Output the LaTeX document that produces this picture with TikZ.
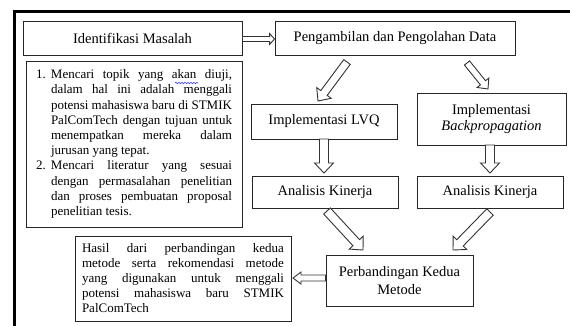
\documentclass[tikz,border=0pt]{standalone}
\usepackage{fontspec}
\setmainfont{Liberation Serif}
\usetikzlibrary{calc,decorations.pathmorphing}
\newcommand\jl[2]{\hbox to #1{\spaceskip=.25em plus 1fil minus .05em\relax #2}}
\newcommand\tfont{\rmfamily\fontsize{14.5}{16}\selectfont}
\newcommand\lfont{\rmfamily\fontsize{13}{15.2}\selectfont}
\newcommand\hfont{\rmfamily\fontsize{13}{15}\selectfont}
\newcommand\hollowarrow[5]{%
  \draw[arrowline] ($(#1)!#3!90:(#2)$) -- ($(#2)!#5!(#1)!#3!-90:(#1)$)
    -- ($(#2)!#5!(#1)!#4!-90:(#1)$) -- (#2)
    -- ($(#2)!#5!(#1)!#4!90:(#1)$) -- ($(#2)!#5!(#1)!#3!90:(#1)$)
    -- ($(#1)!#3!-90:(#2)$) -- cycle;}
\tikzset{
  box/.style={draw=black!85, line width=0.9pt, inner sep=0pt, font=\tfont, align=center},
  arrowline/.style={draw=black!80, line width=0.9pt, fill=white, line join=miter},
  spellwave/.style={draw=blue!75!white, line width=0.6pt, decorate, decoration={snake, amplitude=0.8pt, segment length=3pt}}
}
\begin{document}
\begin{tikzpicture}[x=1pt,y=-1pt]
\useasboundingbox (0,0) rectangle (570,325);
\begin{scope}
  \clip (0,0) rectangle (570,325);
  \draw[line width=3.5pt] (14.5,11.5) rectangle (620,360);
\end{scope}

\node[box, minimum width=219pt, minimum height=34pt] (ident) at (132.5,38) {Identifikasi Masalah};
\node[box, minimum width=240pt, minimum height=34pt] (peng) at (395,38) {Pengambilan dan Pengolahan Data};
\node[box, minimum width=216pt, minimum height=166pt, font=\lfont, align=left] (list) at (134,144) {%
\makebox[15pt][l]{1.}\jl{181pt}{Mencari topik yang akan diuji,}\\
\hspace*{15pt}\jl{181pt}{dalam hal ini adalah menggali}\\
\hspace*{15pt}\jl{181pt}{potensi mahasiswa baru di STMIK}\\
\hspace*{15pt}\jl{181pt}{PalComTech dengan tujuan untuk}\\
\hspace*{15pt}\jl{181pt}{menempatkan mereka dalam}\\
\hspace*{15pt}jurusan yang tepat.\\
\makebox[15pt][l]{2.}\jl{181pt}{Mencari literatur yang sesuai}\\
\hspace*{15pt}\jl{181pt}{dengan permasalahan penelitian}\\
\hspace*{15pt}\jl{181pt}{dan proses pembuatan proposal}\\
\hspace*{15pt}penelitian tesis.};
\coordinate (wavea) at (175,83);
\coordinate (waveb) at (198,83);
\draw[spellwave] (wavea) -- (waveb);
\node[box, minimum width=146pt, minimum height=35pt] (lvq) at (324,121.5) {Implementasi LVQ};
\node[box, minimum width=149pt, minimum height=52pt] (bp) at (491.5,119) {Implementasi\\\textit{Backpropagation}};
\node[box, minimum width=146pt, minimum height=32pt] (ak1) at (325,192) {Analisis Kinerja};
\node[box, minimum width=146pt, minimum height=32pt] (ak2) at (490,192) {Analisis Kinerja};
\node[box, minimum width=147pt, minimum height=51pt] (perb) at (399.5,280.5) {Perbandingan Kedua\\[2pt]Metode};
\node[box, minimum width=216pt, minimum height=85pt, font=\hfont, align=left] (hasil) at (183,278.5) {%
\jl{202pt}{Hasil dari perbandingan kedua}\\
\jl{202pt}{metode serta rekomendasi metode}\\
\jl{202pt}{yang digunakan untuk menggali}\\
\jl{202pt}{potensi mahasiswa baru STMIK}\\
PalComTech};

% connector end points
\coordinate (a1t) at (ident.east |- 0,39);
\coordinate (a1h) at (peng.west |- 0,39);
\coordinate (a2t) at (347,62);
\coordinate (a2h) at (318,101);
\coordinate (a3t) at (467,63);
\coordinate (a3h) at (488,89);
\coordinate (a4t) at (324,139);
\coordinate (a4h) at (324,173);
\coordinate (a5t) at (490,145);
\coordinate (a5h) at (490,173);
\coordinate (a6t) at (327,211);
\coordinate (a6h) at (363,250);
\coordinate (a7t) at (490,212);
\coordinate (a7h) at (453,250);
\coordinate (a8t) at (perb.west |- 0,278);
\coordinate (a8h) at (293,278);

\hollowarrow{a1t}{a1h}{2.5pt}{5.5pt}{5pt}
\hollowarrow{a2t}{a2h}{4pt}{9pt}{10pt}
\hollowarrow{a3t}{a3h}{3.3pt}{7.5pt}{8pt}
\hollowarrow{a4t}{a4h}{4.5pt}{9.5pt}{10pt}
\hollowarrow{a5t}{a5h}{4.5pt}{9.5pt}{10pt}
\hollowarrow{a6t}{a6h}{4.5pt}{9.5pt}{10pt}
\hollowarrow{a7t}{a7h}{4.5pt}{9.5pt}{10pt}
\hollowarrow{a8t}{a8h}{3pt}{6pt}{8pt}
\end{tikzpicture}
\end{document}
